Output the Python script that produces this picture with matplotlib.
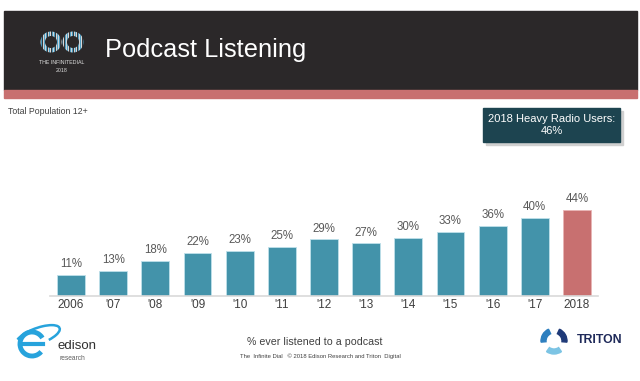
import numpy as np
import matplotlib
matplotlib.use("Agg")
import matplotlib.pyplot as plt
from matplotlib.patches import Rectangle, Circle, Wedge, Arc

plt.rcParams['font.family'] = ['Liberation Sans', 'DejaVu Sans']

# data
years = ["2006", "'07", "'08", "'09", "'10", "'11", "'12", "'13", "'14", "'15", "'16", "'17", "2018"]
pct = [11, 13, 18, 22, 23, 25, 29, 27, 30, 33, 36, 40, 44]
heavy_radio = 46

W, H = 640, 381
fig = plt.figure(figsize=(W / 100, H / 100), dpi=100)
fig.patch.set_facecolor("white")

# full-figure overlay axis in pixel coordinates (y down)
bg = fig.add_axes([0, 0, 1, 1])
bg.set_xlim(0, W)
bg.set_ylim(H, 0)
bg.axis("off")

# header band
bg.add_patch(Rectangle((4, 11), 633, 79, color="#2b2829", zorder=1))
bg.add_patch(Rectangle((4, 90), 633, 8, color="#c87070", zorder=1))
bg.text(105, 50, "Podcast Listening", color="white", fontsize=18.3, va="center", ha="left")

# infinity logo (rough): striped rings
for cx, c1, c2 in [(51, "#4a9bc0", "#d8d8d8"), (73, "#d8d8d8", "#4a9bc0")]:
    ring = Wedge((cx, 42), 10.5, 0, 360, width=4.5, transform=bg.transData)
    xs = np.arange(cx - 11, cx + 11, 1.3)
    lines = bg.vlines(xs, 30, 54, colors=[c1 if i % 2 else c2 for i in range(len(xs))], lw=0.8, zorder=3)
    lines.set_clip_path(ring)
bg.text(62, 62, "THE INFINITEDIAL", color="#e0e0e0", fontsize=3.8, ha="center", va="center")
bg.text(62, 70, "2018", color="#e0e0e0", fontsize=3.8, ha="center", va="center")

bg.text(8, 112, "Total Population 12+", color="#404040", fontsize=6.3, va="center")

# heavy radio box with shadow
bg.add_patch(Rectangle((486, 111), 137, 34, color="#d0d0d0", zorder=1))
bg.add_patch(Rectangle((483, 108), 137, 34, color="#1d4450", zorder=2))
bg.text(551.5, 125, "2018 Heavy Radio Users:\n%d%%" % heavy_radio, color="white",
        fontsize=8, ha="center", va="center", linespacing=1.15, zorder=3)

# footer texts
bg.text(315, 342, "% ever listened to a podcast", color="#404040", fontsize=7.7, ha="center", va="center")
bg.text(320, 356, "The  Infinite Dial   \u00a9 2018 Edison Research and Triton  Digital", color="#404040",
        fontsize=4.2, ha="center", va="center")

# edison logo (rough)
bg.add_patch(Arc((32, 344), 24, 24, theta1=40, theta2=330, lw=3.5, color="#27a3dc"))
bg.plot([21, 43], [344, 344], color="#27a3dc", lw=3)
bg.add_patch(Arc((38, 336), 46, 16, angle=-20, theta1=190, theta2=400, lw=1.8, color="#27a3dc"))
bg.text(57, 346, "edison", color="#303030", fontsize=9.5, va="center", ha="left")
bg.text(60, 358, "research", color="#606060", fontsize=4.8, va="center", ha="left")

# triton logo (rough)
bg.add_patch(Wedge((554, 341), 13, 55, 125, width=5, color="#7cc4e4"))
bg.add_patch(Wedge((554, 341), 13, 175, 245, width=5, color="#2d7fbf"))
bg.add_patch(Wedge((554, 341), 13, 295, 365, width=5, color="#1f3a78"))
bg.text(577, 340, "TRITON", color="#1f2a5a", fontsize=8.8, fontweight="bold", va="center", ha="left")

# bar chart
ax = fig.add_axes([50 / W, (H - 296) / H, 548 / W, 106 / H])
x = np.arange(len(years))
colors = ["#4393aa"] * (len(years) - 1) + ["#c87070"]
bars = ax.bar(x, pct, width=0.66, color=colors, edgecolor="#bfe0ea", linewidth=0.6)
bars[-1].set_edgecolor("#e8b5b5")
for xi, v in zip(x, pct):
    ax.text(xi, v + 2.5, "%d%%" % v, ha="center", va="bottom", fontsize=8.3, color="#595959")
ax.set_xlim(-0.5, len(years) - 0.5)
ax.set_ylim(0, 54.4)
ax.set_xticks(x)
ax.set_xticklabels(years, fontsize=8.5, color="#404040")
ax.tick_params(axis="x", length=0, pad=2)
ax.set_yticks([])
for s in ["top", "right", "left"]:
    ax.spines[s].set_visible(False)
ax.spines["bottom"].set_color("#d9d9d9")
ax.spines["bottom"].set_linewidth(1.2)
ax.patch.set_alpha(0)

fig.savefig("out.png", dpi=100)
